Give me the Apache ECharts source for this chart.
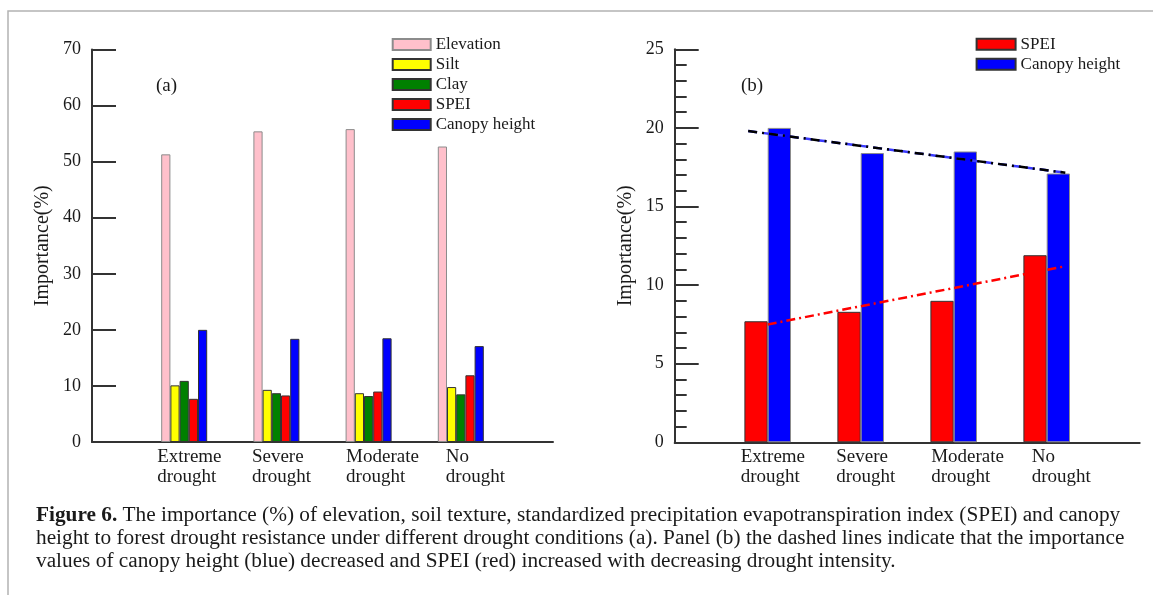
<!DOCTYPE html>
<html>
<head>
<meta charset="utf-8">
<script src="https://cdn.jsdelivr.net/npm/echarts@6/dist/echarts.min.js"></script>
<style>
html, body { margin: 0; padding: 0; background: #fff; }
#fig6 { width: 1153px; height: 595px; }
</style>
</head>
<body>
<div id="fig6"></div>
<script>
// drought classes (x axis), same for both panels
const categories = ['Extreme\ndrought', 'Severe\ndrought', 'Moderate\ndrought', 'No\ndrought']

// panel (a) importance (%)
const elevation = [51.3, 55.4, 55.8, 52.7]
const silt = [10.1, 9.3, 8.7, 9.8]
const clay = [10.9, 8.7, 8.2, 8.5]
const spei = [7.7, 8.3, 9.0, 11.9]
const canopyHeight = [20.0, 18.4, 18.5, 17.1]

// panel (b) trend lines, end points [x position, importance]
const canopyTrend = [[0.79, 19.8], [4.2, 17.15]]
const speiTrend = [[1.0, 7.5], [4.2, 11.2]]

const yTicksA = { min: 0, max: 70, interval: 10 }
const yTicksB = { min: 0, max: 25, interval: 5 }

const font = 'Liberation Serif'
const ink = '#1a1a1a'

// pad with empty slots at both ends so groups sit at 1..4 on a 0..5 axis
const padCats = ['', ...categories, '']
const pad = arr => ['-', ...arr, '-']

// the labels in the figure are left aligned, starting a bit left of each group
const labelShift = [0, -27, -24.5, -22.5, -15, 0]
const labelRich = {}
labelShift.forEach((s, i) => {
    labelRich['p' + i] = { fontFamily: font, fontSize: 19, lineHeight: 20, color: ink, padding: [0, 0, 0, s] }
})

function xCat(gridIndex) {
    return {
        type: 'category',
        gridIndex: gridIndex,
        data: padCats,
        boundaryGap: false,
        axisLine: { lineStyle: { color: '#333', width: 2 } },
        axisTick: { show: false },
        axisLabel: {
            interval: 0,
            align: 'left',
            margin: 5,
            fontFamily: font,
            fontSize: 19,
            lineHeight: 20,
            color: ink,
            formatter: function(value, index) {
                if (!value) return ''
                return value.split('\n').map(s => '{p' + index + '|' + s + '}').join('\n')
            },
            rich: labelRich
        },
        splitLine: { show: false }
    }
}

function yVal(gridIndex, t, minor) {
    return {
        type: 'value',
        gridIndex: gridIndex,
        min: t.min,
        max: t.max,
        interval: t.interval,
        name: 'Importance(%)',
        nameLocation: 'middle',
        nameGap: 39,
        nameTextStyle: { fontFamily: font, fontSize: 20, color: ink },
        axisLine: { show: true, lineStyle: { color: '#333', width: 2 } },
        axisTick: { show: true, inside: true, length: 24, lineStyle: { color: '#333', width: 2 } },
        minorTick: { show: minor, splitNumber: 5, length: 12, lineStyle: { color: '#333', width: 2 } },
        axisLabel: { fontFamily: font, fontSize: 18, color: ink, margin: 11 },
        splitLine: { show: false }
    }
}

function bar(name, data, color, border, xi, yi, width) {
    return {
        type: 'bar',
        name: name,
        xAxisIndex: xi,
        yAxisIndex: yi,
        data: pad(data),
        barWidth: width,
        barGap: '0%',
        itemStyle: { color: color, borderColor: border, borderWidth: 1 },
        animation: false
    }
}

const chart = echarts.init(document.getElementById('fig6'))
const legendText = { fontFamily: font, fontSize: 17, color: ink, lineHeight: 20 }
const captionFont = '21.3px "Liberation Serif"'

const option = {
    backgroundColor: '#fff',
    animation: false,
    grid: [
        { left: 92, right: 600, top: 49.5, bottom: 153 },
        { left: 674.7, right: 13.3, top: 49.3, bottom: 152.7 }
    ],
    xAxis: [
        xCat(0),
        xCat(1),
        { type: 'value', gridIndex: 1, min: 0, max: 5, show: false }
    ],
    yAxis: [yVal(0, yTicksA, false), yVal(1, yTicksB, true)],
    legend: [
        {
            orient: 'vertical', left: 391.7, top: 34.5, padding: 0,
            icon: 'rect', itemWidth: 38, itemHeight: 11, itemGap: 0,
            textStyle: legendText,
            data: ['Elevation', 'Silt', 'Clay', 'SPEI', 'Canopy height']
        },
        {
            orient: 'vertical', left: 975.6, top: 34.3, padding: 0,
            icon: 'rect', itemWidth: 39, itemHeight: 11, itemGap: 0,
            textStyle: legendText,
            data: ['SPEI', 'Canopy height']
        }
    ],
    series: [
        bar('Elevation', elevation, '#ffc0cb', '#8c8c8c', 0, 0, 9.2),
        bar('Silt', silt, '#ffff00', '#333', 0, 0, 9.2),
        bar('Clay', clay, '#008000', '#333', 0, 0, 9.2),
        bar('SPEI', spei, '#ff0000', '#333', 0, 0, 9.2),
        bar('Canopy height', canopyHeight, '#0000ff', '#333', 0, 0, 9.2),
        bar('SPEI', spei, '#ff0000', '#333', 1, 1, 23.3),
        bar('Canopy height', canopyHeight, '#0000ff', '#8c8c8c', 1, 1, 23.3),
        {
            type: 'line', xAxisIndex: 2, yAxisIndex: 1, data: canopyTrend,
            symbol: 'none', silent: true,
            lineStyle: { color: '#3b3bff', width: 2.5, type: [9, 5] }
        },
        {
            type: 'line', xAxisIndex: 2, yAxisIndex: 1, data: canopyTrend,
            symbol: 'none', silent: true,
            lineStyle: { color: '#000', width: 2.5, type: [9, 5, 2, 5] }
        },
        {
            type: 'line', xAxisIndex: 2, yAxisIndex: 1, data: speiTrend,
            symbol: 'none', silent: true,
            lineStyle: { color: '#ff0000', width: 2.5, type: [9, 4, 2, 4] }
        }
    ],
    graphic: [
        // page frame, open at right and bottom
        {
            type: 'polyline',
            shape: { points: [[8, 595], [8, 11], [1153, 11]] },
            style: { stroke: '#b3b3b3', lineWidth: 1.5, fill: null }
        },
        { type: 'text', left: 156, top: 77, style: { text: '(a)', font: '19px "Liberation Serif"', fill: ink } },
        { type: 'text', left: 741, top: 77, style: { text: '(b)', font: '19px "Liberation Serif"', fill: ink } },
        {
            type: 'text', left: 36, top: 505,
            style: {
                text: '{b|Figure 6.} The importance (%) of elevation, soil texture, standardized precipitation evapotranspiration index (SPEI) and canopy',
                font: captionFont, fill: ink,
                rich: { b: { fontFamily: font, fontSize: 21.3, fontWeight: 'bold', fill: ink } }
            }
        },
        {
            type: 'text', left: 36, top: 528,
            style: {
                text: 'height to forest drought resistance under different drought conditions (a). Panel (b) the dashed lines indicate that the importance',
                font: captionFont, fill: ink
            }
        },
        {
            type: 'text', left: 36, top: 551,
            style: {
                text: 'values of canopy height (blue) decreased and SPEI (red) increased with decreasing drought intensity.',
                font: captionFont, fill: ink
            }
        }
    ]
}

chart.setOption(option)
</script>
</body>
</html>
